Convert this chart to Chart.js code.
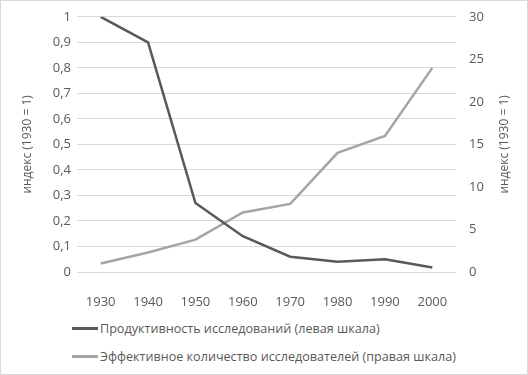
<!DOCTYPE html>
<html>
<head>
<meta charset="utf-8">
<script src="https://cdn.jsdelivr.net/npm/chart.js@4"></script>
<style>
  body { margin: 0; background: #fff; }
  #wrap { position: relative; width: 528px; height: 375px; box-sizing: border-box; border: 1px solid #d9d9d9; background: #fff; font-family: "Open Sans", sans-serif; }
  #chartBox { position: absolute; left: -1px; top: -5px; width: 528px; height: 317px; }
  #legend { position: absolute; left: 71px; top: 313px; color: #595959; font-size: 12.6px; }
  .item { display: flex; align-items: center; height: 28px; }
  .swatch { width: 26px; height: 3px; margin-right: 2px; }
</style>
</head>
<body>
<div id="wrap">
  <div id="chartBox"><canvas id="chart"></canvas></div>
  <div id="legend"></div>
</div>
<script>
const years = ['1930', '1940', '1950', '1960', '1970', '1980', '1990', '2000'];
const productivity = [1, 0.9, 0.27, 0.14, 0.06, 0.04, 0.05, 0.018];
const researchers = [1, 2.3, 3.8, 7, 8, 14, 16, 24];
const seriesNames = ['Продуктивность исследований (левая шкала)', 'Эффективное количество исследователей (правая шкала)'];
const seriesColors = ['#595959', '#a5a5a5'];
const axisTitle = 'индекс (1930 = 1)';

const textColor = '#595959';
const tickFont = { family: 'Open Sans', size: 13 };

function commaNum(v){
    return String(Math.round(v * 10) / 10).replace('.', ',');
}

// right axis title reads bottom-to-top, like the left one
const rightTitle = {
    id: 'rightTitle',
    afterDraw: function(c){
        const area = c.chartArea;
        const g = c.ctx;
        g.save();
        g.translate(505, (area.top + area.bottom) / 2);
        g.rotate(-Math.PI / 2);
        g.fillStyle = textColor;
        g.font = '12px "Open Sans"';
        g.textAlign = 'center';
        g.textBaseline = 'middle';
        g.fillText(axisTitle, 0, 0);
        g.restore();
    }
};

const ctx = document.getElementById('chart').getContext('2d');
const chart = new Chart(ctx, {
    type: 'line',
    data: {
        labels: years,
        datasets: [{
            label: seriesNames[0],
            data: productivity,
            borderColor: seriesColors[0],
            borderWidth: 2.5,
            pointRadius: 0,
            yAxisID: 'y'
        }, {
            label: seriesNames[1],
            data: researchers,
            borderColor: seriesColors[1],
            borderWidth: 2.5,
            pointRadius: 0,
            yAxisID: 'y1'
        }]
    },
    options: {
        responsive: true,
        maintainAspectRatio: false,
        animation: false,
        layout: { padding: { top: 12, left: 0, right: 0, bottom: 0 } },
        plugins: {
            legend: { display: false },
            tooltip: { enabled: false }
        },
        scales: {
            x: {
                offset: true,
                grid: { display: false },
                border: { display: false },
                ticks: { color: textColor, font: tickFont, padding: 14, maxRotation: 0 },
                afterFit: function(scale){ scale.height = 41; }
            },
            y: {
                position: 'left',
                min: 0, max: 1,
                grid: { color: '#d9d9d9', drawTicks: false },
                border: { display: false },
                ticks: { stepSize: 0.1, color: textColor, font: tickFont, padding: 6, callback: commaNum },
                title: { display: true, text: axisTitle, color: textColor, font: { family: 'Open Sans', size: 12 }, padding: { top: 20, bottom: 0 } },
                afterFit: function(scale){ scale.width = 77; }
            },
            y1: {
                position: 'right',
                min: 0, max: 30,
                grid: { display: false, drawTicks: false },
                border: { display: false },
                ticks: { stepSize: 5, color: textColor, font: tickFont, padding: 13 },
                afterFit: function(scale){ scale.width = 72; }
            }
        }
    },
    plugins: [rightTitle]
});

// legend stacked on the left, as in the original
const legendEl = document.getElementById('legend');
chart.data.datasets.forEach(function(ds){
    const row = document.createElement('div');
    row.className = 'item';
    const sw = document.createElement('span');
    sw.className = 'swatch';
    sw.style.background = ds.borderColor;
    const txt = document.createElement('span');
    txt.textContent = ds.label;
    row.appendChild(sw);
    row.appendChild(txt);
    legendEl.appendChild(row);
});
</script>
</body>
</html>
